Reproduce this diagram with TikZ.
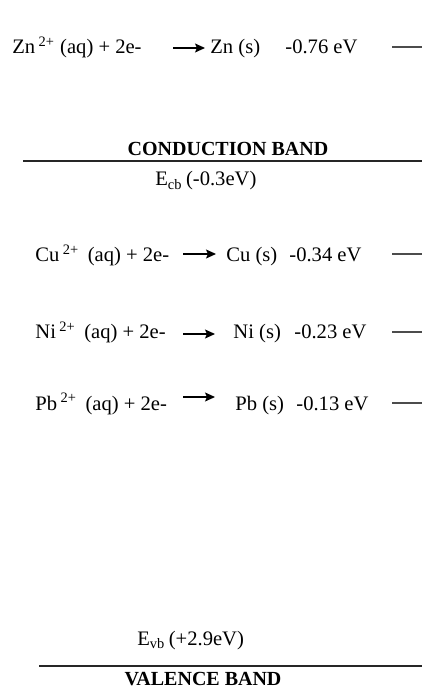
\documentclass[tikz,border=0pt]{standalone}
\usepackage{fontspec}
\setmainfont{Liberation Serif}
\usetikzlibrary{arrows.meta}

\begin{document}
\begin{tikzpicture}[x=0.5pt, y=-0.5pt,
  txt/.style={anchor=base west, inner sep=0pt, font=\fontsize{10.3}{12}\selectfont},
  bandname/.style={anchor=base, inner sep=0pt, font=\fontsize{10}{12}\selectfont\bfseries},
  rxn/.style={-{Stealth[length=5pt, width=4.5pt, inset=1pt]}, line width=0.7pt},
  level/.style={line width=0.6pt, black!70},
  bandline/.style={line width=0.8pt, black!85}]

  \useasboundingbox (0,0) rectangle (422,688);

  % Zn couple (above the conduction band)
  \node[txt] (zn-ion) at (12,54) {Zn\,\textsuperscript{2+} (aq) + 2e-};
  \coordinate (zn-a) at (173,48);
  \coordinate (zn-b) at (205,48);
  \draw[rxn] (zn-a) -- (zn-b);
  \node[txt] (zn-met) at (210,54) {Zn (s)};
  \node[txt] (zn-pot) at (285,54) {-0.76 eV};
  \coordinate (zn-l) at (392,47);
  \coordinate (zn-r) at (422,47);
  \draw[level] (zn-l) -- (zn-r);

  % Conduction band
  \node[bandname] (cb) at (228,156) {CONDUCTION BAND};
  \coordinate (cb-l) at (23,161);
  \coordinate (cb-r) at (422,161);
  \draw[bandline] (cb-l) -- (cb-r);
  \node[txt] (ecb) at (155,186) {E\textsubscript{cb}\,(-0.3eV)};

  % Cu couple
  \node[txt] (cu-ion) at (35,262) {Cu\,\textsuperscript{2+}\, (aq) + 2e-};
  \coordinate (cu-a) at (183,254);
  \coordinate (cu-b) at (216,254);
  \draw[rxn] (cu-a) -- (cu-b);
  \node[txt] (cu-met) at (226,262) {Cu (s)};
  \node[txt] (cu-pot) at (289,262) {-0.34 eV};
  \coordinate (cu-l) at (392,254);
  \coordinate (cu-r) at (422,254);
  \draw[level] (cu-l) -- (cu-r);

  % Ni couple
  \node[txt] (ni-ion) at (35,339) {Ni\,\textsuperscript{2+}\, (aq) + 2e-};
  \coordinate (ni-a) at (183,334);
  \coordinate (ni-b) at (215,334);
  \draw[rxn] (ni-a) -- (ni-b);
  \node[txt] (ni-met) at (233,339) {Ni (s)};
  \node[txt] (ni-pot) at (294,339) {-0.23 eV};
  \coordinate (ni-l) at (392,332);
  \coordinate (ni-r) at (422,332);
  \draw[level] (ni-l) -- (ni-r);

  % Pb couple
  \node[txt] (pb-ion) at (35,410) {Pb\,\textsuperscript{2+}\, (aq) + 2e-};
  \coordinate (pb-a) at (183,397);
  \coordinate (pb-b) at (215,397);
  \draw[rxn] (pb-a) -- (pb-b);
  \node[txt] (pb-met) at (235,410) {Pb (s)};
  \node[txt] (pb-pot) at (296,410) {-0.13 eV};
  \coordinate (pb-l) at (392,403);
  \coordinate (pb-r) at (422,403);
  \draw[level] (pb-l) -- (pb-r);

  % Valence band
  \node[txt] (evb) at (137,645) {E\textsubscript{vb}\,(+2.9eV)};
  \coordinate (vb-l) at (39,666);
  \coordinate (vb-r) at (422,666);
  \draw[bandline] (vb-l) -- (vb-r);
  \node[bandname] (vb) at (203,685) {VALENCE BAND};

\end{tikzpicture}
\end{document}
